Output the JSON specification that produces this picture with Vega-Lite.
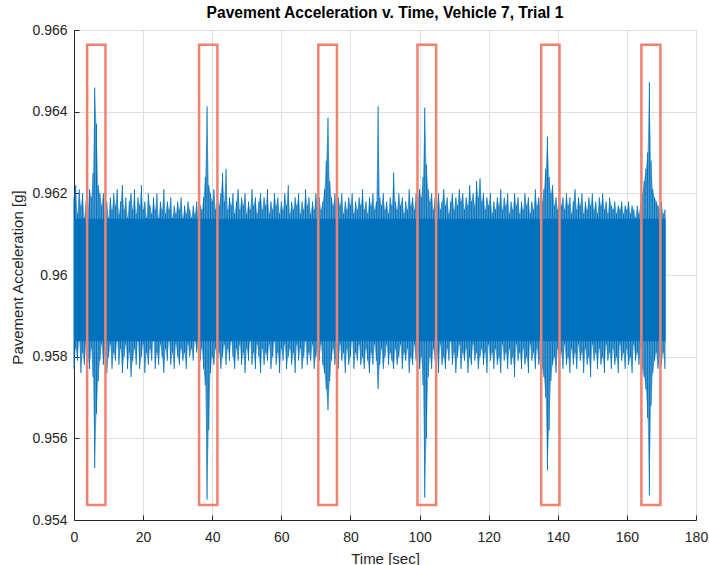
{
"$schema": "https://vega.github.io/schema/vega-lite/v6.json",
"width": 622, "height": 490,
"autosize": "none",
"padding": {"left": 74, "top": 30, "right": 13, "bottom": 45},
"background": "white",
"title": {"text": "Pavement Acceleration v. Time, Vehicle 7, Trial 1", "font": "Liberation Sans", "fontSize": 15.6, "fontWeight": "bold", "color": "#000000", "anchor": "middle", "baseline": "alphabetic", "offset": 10, "dy": 21},
"config": {"view": {"stroke": null}, "axis": {"labelFont": "Liberation Sans", "titleFont": "Liberation Sans", "labelColor": "#262626", "titleColor": "#262626", "labelFontSize": 14, "titleFontSize": 15, "titleFontWeight": "normal", "gridColor": "#dfdfdf", "gridWidth": 1, "domainColor": "#262626", "tickColor": "#262626", "tickSize": -5, "domainWidth": 1}},
"datasets": {
"core": [{"t0": 0, "t1": 171.2, "lo": 0.95838, "hi": 0.96138}],
"boxes": [
{"x0": 3.8, "x1": 9.1, "y0": 0.95437, "y1": 0.96564},
{"x0": 36.2, "x1": 41.5, "y0": 0.95437, "y1": 0.96564},
{"x0": 70.7, "x1": 76.1, "y0": 0.95437, "y1": 0.96564},
{"x0": 99.4, "x1": 104.8, "y0": 0.95437, "y1": 0.96564},
{"x0": 135.2, "x1": 140.5, "y0": 0.95437, "y1": 0.96564},
{"x0": 164.2, "x1": 169.7, "y0": 0.95437, "y1": 0.96564}
],
"sig": [
{"t":0,"hi":0.9619,"lo":0.9577},{"t":0.5,"hi":0.9622,"lo":0.9582},{"t":1,"hi":0.9615,"lo":0.9579},{"t":1.5,"hi":0.9621,"lo":0.9584},
{"t":2,"hi":0.9617,"lo":0.9576},{"t":2.5,"hi":0.962,"lo":0.9581},{"t":3,"hi":0.9614,"lo":0.9578},{"t":3.5,"hi":0.9618,"lo":0.9583},
{"t":4,"hi":0.9616,"lo":0.958},{"t":4.5,"hi":0.9621,"lo":0.9577},{"t":5,"hi":0.9619,"lo":0.9582},{"t":5.5,"hi":0.9625,"lo":0.9575},
{"t":6,"hi":0.96459,"lo":0.95527},{"t":6.5,"hi":0.9637,"lo":0.9566},{"t":7,"hi":0.9622,"lo":0.9574},{"t":7.5,"hi":0.962,"lo":0.9579},
{"t":8,"hi":0.9617,"lo":0.9583},{"t":8.5,"hi":0.962,"lo":0.9578},{"t":9,"hi":0.9615,"lo":0.9581},{"t":9.5,"hi":0.9618,"lo":0.9576},
{"t":10,"hi":0.9614,"lo":0.958},{"t":10.5,"hi":0.9619,"lo":0.9583},{"t":11,"hi":0.9616,"lo":0.9577},{"t":11.5,"hi":0.962,"lo":0.9581},
{"t":12,"hi":0.9617,"lo":0.9579},{"t":12.5,"hi":0.9621,"lo":0.9584},{"t":13,"hi":0.9615,"lo":0.9578},{"t":13.5,"hi":0.9618,"lo":0.9582},
{"t":14,"hi":0.9622,"lo":0.9576},{"t":14.5,"hi":0.9616,"lo":0.958},{"t":15,"hi":0.9619,"lo":0.9583},{"t":15.5,"hi":0.9614,"lo":0.9577},
{"t":16,"hi":0.9618,"lo":0.9581},{"t":16.5,"hi":0.962,"lo":0.9575},{"t":17,"hi":0.9616,"lo":0.9579},{"t":17.5,"hi":0.9621,"lo":0.9582},
{"t":18,"hi":0.9615,"lo":0.9578},{"t":18.5,"hi":0.9619,"lo":0.9584},{"t":19,"hi":0.9617,"lo":0.9577},{"t":19.5,"hi":0.9622,"lo":0.958},
{"t":20,"hi":0.9616,"lo":0.9583},{"t":20.5,"hi":0.9618,"lo":0.9576},{"t":21,"hi":0.9614,"lo":0.9581},{"t":21.5,"hi":0.962,"lo":0.9578},
{"t":22,"hi":0.9617,"lo":0.9582},{"t":22.5,"hi":0.9615,"lo":0.9579},{"t":23,"hi":0.9619,"lo":0.9585},{"t":23.5,"hi":0.9616,"lo":0.9577},
{"t":24,"hi":0.962,"lo":0.9581},{"t":24.5,"hi":0.9614,"lo":0.9578},{"t":25,"hi":0.9618,"lo":0.9583},{"t":25.5,"hi":0.9616,"lo":0.958},
{"t":26,"hi":0.9621,"lo":0.9576},{"t":26.5,"hi":0.9615,"lo":0.9582},{"t":27,"hi":0.9618,"lo":0.9579},{"t":27.5,"hi":0.9616,"lo":0.9584},
{"t":28,"hi":0.9619,"lo":0.9578},{"t":28.5,"hi":0.9614,"lo":0.9581},{"t":29,"hi":0.9617,"lo":0.9577},{"t":29.5,"hi":0.9615,"lo":0.9583},
{"t":30,"hi":0.9618,"lo":0.958},{"t":30.5,"hi":0.9616,"lo":0.9578},{"t":31,"hi":0.9619,"lo":0.9582},{"t":31.5,"hi":0.9614,"lo":0.9579},
{"t":32,"hi":0.9617,"lo":0.9581},{"t":32.5,"hi":0.9615,"lo":0.9577},{"t":33,"hi":0.9618,"lo":0.9583},{"t":33.5,"hi":0.9616,"lo":0.958},
{"t":34,"hi":0.9614,"lo":0.9582},{"t":34.5,"hi":0.9617,"lo":0.9579},{"t":35,"hi":0.9615,"lo":0.9584},{"t":35.5,"hi":0.9618,"lo":0.9581},
{"t":36,"hi":0.9614,"lo":0.9583},{"t":36.5,"hi":0.9617,"lo":0.9579},{"t":37,"hi":0.9616,"lo":0.9582},{"t":37.5,"hi":0.9619,"lo":0.9577},
{"t":38,"hi":0.9624,"lo":0.9573},{"t":38.5,"hi":0.96413,"lo":0.9545},{"t":39,"hi":0.9622,"lo":0.9562},{"t":39.5,"hi":0.962,"lo":0.9576},
{"t":40,"hi":0.9618,"lo":0.958},{"t":40.5,"hi":0.9621,"lo":0.9578},{"t":41,"hi":0.9616,"lo":0.9582},{"t":41.5,"hi":0.9619,"lo":0.9579},
{"t":42,"hi":0.9617,"lo":0.9581},{"t":42.5,"hi":0.962,"lo":0.9577},{"t":43,"hi":0.9625,"lo":0.958},{"t":43.5,"hi":0.9618,"lo":0.9583},
{"t":44,"hi":0.9626,"lo":0.9578},{"t":44.5,"hi":0.9616,"lo":0.9582},{"t":45,"hi":0.9619,"lo":0.9579},{"t":45.5,"hi":0.9617,"lo":0.9584},
{"t":46,"hi":0.962,"lo":0.958},{"t":46.5,"hi":0.9615,"lo":0.9577},{"t":47,"hi":0.9618,"lo":0.9582},{"t":47.5,"hi":0.9621,"lo":0.9579},
{"t":48,"hi":0.9616,"lo":0.9583},{"t":48.5,"hi":0.9619,"lo":0.9578},{"t":49,"hi":0.9617,"lo":0.9581},{"t":49.5,"hi":0.962,"lo":0.9576},
{"t":50,"hi":0.9615,"lo":0.9582},{"t":50.5,"hi":0.9618,"lo":0.9579},{"t":51,"hi":0.9616,"lo":0.9584},{"t":51.5,"hi":0.9621,"lo":0.9578},
{"t":52,"hi":0.9617,"lo":0.9581},{"t":52.5,"hi":0.9619,"lo":0.9577},{"t":53,"hi":0.9615,"lo":0.9583},{"t":53.5,"hi":0.9618,"lo":0.958},
{"t":54,"hi":0.962,"lo":0.9576},{"t":54.5,"hi":0.9616,"lo":0.9582},{"t":55,"hi":0.9619,"lo":0.9578},{"t":55.5,"hi":0.9617,"lo":0.9581},
{"t":56,"hi":0.9621,"lo":0.9579},{"t":56.5,"hi":0.9615,"lo":0.9583},{"t":57,"hi":0.9618,"lo":0.9577},{"t":57.5,"hi":0.9616,"lo":0.958},
{"t":58,"hi":0.962,"lo":0.9584},{"t":58.5,"hi":0.9617,"lo":0.9578},{"t":59,"hi":0.9619,"lo":0.9581},{"t":59.5,"hi":0.9615,"lo":0.9576},
{"t":60,"hi":0.9618,"lo":0.9582},{"t":60.5,"hi":0.9616,"lo":0.9579},{"t":61,"hi":0.962,"lo":0.9583},{"t":61.5,"hi":0.9617,"lo":0.9577},
{"t":62,"hi":0.9622,"lo":0.958},{"t":62.5,"hi":0.9615,"lo":0.9582},{"t":63,"hi":0.9618,"lo":0.9578},{"t":63.5,"hi":0.9616,"lo":0.9581},
{"t":64,"hi":0.9619,"lo":0.9576},{"t":64.5,"hi":0.9617,"lo":0.9583},{"t":65,"hi":0.962,"lo":0.9579},{"t":65.5,"hi":0.9615,"lo":0.9582},
{"t":66,"hi":0.9618,"lo":0.9577},{"t":66.5,"hi":0.9616,"lo":0.958},{"t":67,"hi":0.9621,"lo":0.9584},{"t":67.5,"hi":0.9617,"lo":0.9578},
{"t":68,"hi":0.9619,"lo":0.9581},{"t":68.5,"hi":0.9615,"lo":0.9579},{"t":69,"hi":0.9618,"lo":0.9583},{"t":69.5,"hi":0.9616,"lo":0.9577},
{"t":70,"hi":0.962,"lo":0.958},{"t":70.5,"hi":0.9617,"lo":0.9582},{"t":71,"hi":0.9619,"lo":0.9579},{"t":71.5,"hi":0.9616,"lo":0.9583},
{"t":72,"hi":0.9618,"lo":0.9578},{"t":72.5,"hi":0.9621,"lo":0.9576},{"t":73,"hi":0.9628,"lo":0.9572},{"t":73.5,"hi":0.96385,"lo":0.95669},
{"t":74,"hi":0.9623,"lo":0.9574},{"t":74.5,"hi":0.9619,"lo":0.9579},{"t":75,"hi":0.9617,"lo":0.9582},{"t":75.5,"hi":0.962,"lo":0.9578},
{"t":76,"hi":0.9616,"lo":0.9581},{"t":76.5,"hi":0.9619,"lo":0.9577},{"t":77,"hi":0.9617,"lo":0.9583},{"t":77.5,"hi":0.962,"lo":0.9579},
{"t":78,"hi":0.9615,"lo":0.9581},{"t":78.5,"hi":0.9618,"lo":0.9576},{"t":79,"hi":0.9616,"lo":0.9582},{"t":79.5,"hi":0.9619,"lo":0.9578},
{"t":80,"hi":0.9617,"lo":0.958},{"t":80.5,"hi":0.962,"lo":0.9584},{"t":81,"hi":0.9615,"lo":0.9577},{"t":81.5,"hi":0.9618,"lo":0.9581},
{"t":82,"hi":0.9616,"lo":0.9579},{"t":82.5,"hi":0.9619,"lo":0.9583},{"t":83,"hi":0.9617,"lo":0.9578},{"t":83.5,"hi":0.9621,"lo":0.958},
{"t":84,"hi":0.9616,"lo":0.9577},{"t":84.5,"hi":0.9618,"lo":0.9582},{"t":85,"hi":0.9615,"lo":0.9579},{"t":85.5,"hi":0.9619,"lo":0.9576},
{"t":86,"hi":0.9617,"lo":0.9581},{"t":86.5,"hi":0.962,"lo":0.9578},{"t":87,"hi":0.9616,"lo":0.9583},{"t":87.5,"hi":0.9618,"lo":0.9579},
{"t":88,"hi":0.96413,"lo":0.95721},{"t":88.5,"hi":0.9619,"lo":0.9578},{"t":89,"hi":0.9617,"lo":0.9582},{"t":89.5,"hi":0.962,"lo":0.9577},
{"t":90,"hi":0.9616,"lo":0.958},{"t":90.5,"hi":0.9618,"lo":0.9583},{"t":91,"hi":0.9615,"lo":0.9578},{"t":91.5,"hi":0.9619,"lo":0.9581},
{"t":92,"hi":0.9617,"lo":0.9579},{"t":92.5,"hi":0.96251,"lo":0.9577},{"t":93,"hi":0.9618,"lo":0.9582},{"t":93.5,"hi":0.9616,"lo":0.9578},
{"t":94,"hi":0.962,"lo":0.958},{"t":94.5,"hi":0.9617,"lo":0.9583},{"t":95,"hi":0.9619,"lo":0.9577},{"t":95.5,"hi":0.9615,"lo":0.9581},
{"t":96,"hi":0.9618,"lo":0.9579},{"t":96.5,"hi":0.9616,"lo":0.9582},{"t":97,"hi":0.9621,"lo":0.9576},{"t":97.5,"hi":0.9617,"lo":0.958},
{"t":98,"hi":0.9619,"lo":0.9578},{"t":98.5,"hi":0.9616,"lo":0.9583},{"t":99,"hi":0.962,"lo":0.9579},{"t":99.5,"hi":0.9618,"lo":0.9581},
{"t":100,"hi":0.9621,"lo":0.9577},{"t":100.5,"hi":0.9619,"lo":0.958},{"t":101,"hi":0.9624,"lo":0.9573},{"t":101.5,"hi":0.9641,"lo":0.95455},
{"t":102,"hi":0.9627,"lo":0.956},{"t":102.5,"hi":0.9621,"lo":0.9575},{"t":103,"hi":0.9618,"lo":0.958},{"t":103.5,"hi":0.962,"lo":0.9577},
{"t":104,"hi":0.9616,"lo":0.9582},{"t":104.5,"hi":0.9619,"lo":0.9579},{"t":105,"hi":0.9617,"lo":0.9581},{"t":105.5,"hi":0.962,"lo":0.9576},
{"t":106,"hi":0.9616,"lo":0.9583},{"t":106.5,"hi":0.9618,"lo":0.9578},{"t":107,"hi":0.9621,"lo":0.958},{"t":107.5,"hi":0.9617,"lo":0.9577},
{"t":108,"hi":0.9619,"lo":0.9582},{"t":108.5,"hi":0.9615,"lo":0.9579},{"t":109,"hi":0.9618,"lo":0.9584},{"t":109.5,"hi":0.962,"lo":0.9578},
{"t":110,"hi":0.9616,"lo":0.9581},{"t":110.5,"hi":0.9619,"lo":0.9576},{"t":111,"hi":0.9617,"lo":0.958},{"t":111.5,"hi":0.9621,"lo":0.9583},
{"t":112,"hi":0.9618,"lo":0.9577},{"t":112.5,"hi":0.962,"lo":0.9581},{"t":113,"hi":0.9616,"lo":0.9579},{"t":113.5,"hi":0.9619,"lo":0.9582},
{"t":114,"hi":0.9617,"lo":0.9576},{"t":114.5,"hi":0.9622,"lo":0.958},{"t":115,"hi":0.9618,"lo":0.9578},{"t":115.5,"hi":0.962,"lo":0.9583},
{"t":116,"hi":0.9617,"lo":0.9579},{"t":116.5,"hi":0.9623,"lo":0.9581},{"t":117,"hi":0.9619,"lo":0.9577},{"t":117.5,"hi":0.96237,"lo":0.958},
{"t":118,"hi":0.9618,"lo":0.9582},{"t":118.5,"hi":0.962,"lo":0.9578},{"t":119,"hi":0.9616,"lo":0.9581},{"t":119.5,"hi":0.9619,"lo":0.9576},
{"t":120,"hi":0.9617,"lo":0.9583},{"t":120.5,"hi":0.962,"lo":0.9579},{"t":121,"hi":0.9615,"lo":0.9581},{"t":121.5,"hi":0.9618,"lo":0.9577},
{"t":122,"hi":0.9616,"lo":0.9582},{"t":122.5,"hi":0.9619,"lo":0.9578},{"t":123,"hi":0.9617,"lo":0.958},{"t":123.5,"hi":0.9621,"lo":0.9576},
{"t":124,"hi":0.9616,"lo":0.9583},{"t":124.5,"hi":0.9619,"lo":0.9579},{"t":125,"hi":0.9617,"lo":0.9581},{"t":125.5,"hi":0.962,"lo":0.9577},
{"t":126,"hi":0.9615,"lo":0.9582},{"t":126.5,"hi":0.9618,"lo":0.9578},{"t":127,"hi":0.9616,"lo":0.958},{"t":127.5,"hi":0.962,"lo":0.9575},
{"t":128,"hi":0.9617,"lo":0.9583},{"t":128.5,"hi":0.9619,"lo":0.9579},{"t":129,"hi":0.9615,"lo":0.9581},{"t":129.5,"hi":0.9618,"lo":0.9577},
{"t":130,"hi":0.9616,"lo":0.9582},{"t":130.5,"hi":0.962,"lo":0.9578},{"t":131,"hi":0.9617,"lo":0.958},{"t":131.5,"hi":0.9619,"lo":0.9576},
{"t":132,"hi":0.9615,"lo":0.9583},{"t":132.5,"hi":0.9618,"lo":0.9579},{"t":133,"hi":0.9616,"lo":0.9581},{"t":133.5,"hi":0.9621,"lo":0.9577},
{"t":134,"hi":0.9617,"lo":0.9582},{"t":134.5,"hi":0.9619,"lo":0.9578},{"t":135,"hi":0.9616,"lo":0.958},{"t":135.5,"hi":0.9618,"lo":0.9577},
{"t":136,"hi":0.9621,"lo":0.9575},{"t":136.5,"hi":0.9626,"lo":0.957},{"t":137,"hi":0.96339,"lo":0.95522},{"t":137.5,"hi":0.9624,"lo":0.9562},
{"t":138,"hi":0.962,"lo":0.9574},{"t":138.5,"hi":0.9622,"lo":0.9578},{"t":139,"hi":0.9617,"lo":0.958},{"t":139.5,"hi":0.9619,"lo":0.9576},
{"t":140,"hi":0.9616,"lo":0.9582},{"t":140.5,"hi":0.962,"lo":0.9579},{"t":141,"hi":0.9617,"lo":0.9581},{"t":141.5,"hi":0.9619,"lo":0.9577},
{"t":142,"hi":0.9616,"lo":0.9583},{"t":142.5,"hi":0.962,"lo":0.9578},{"t":143,"hi":0.9617,"lo":0.958},{"t":143.5,"hi":0.9619,"lo":0.9576},
{"t":144,"hi":0.9615,"lo":0.9582},{"t":144.5,"hi":0.9618,"lo":0.9578},{"t":145,"hi":0.9621,"lo":0.9581},{"t":145.5,"hi":0.9616,"lo":0.9577},
{"t":146,"hi":0.9619,"lo":0.9583},{"t":146.5,"hi":0.9617,"lo":0.9579},{"t":147,"hi":0.962,"lo":0.9581},{"t":147.5,"hi":0.9615,"lo":0.9576},
{"t":148,"hi":0.9618,"lo":0.9582},{"t":148.5,"hi":0.9616,"lo":0.9578},{"t":149,"hi":0.9619,"lo":0.958},{"t":149.5,"hi":0.9617,"lo":0.9575},
{"t":150,"hi":0.962,"lo":0.9583},{"t":150.5,"hi":0.9616,"lo":0.9579},{"t":151,"hi":0.9618,"lo":0.9581},{"t":151.5,"hi":0.9615,"lo":0.9577},
{"t":152,"hi":0.9619,"lo":0.9582},{"t":152.5,"hi":0.9617,"lo":0.9578},{"t":153,"hi":0.962,"lo":0.958},{"t":153.5,"hi":0.9616,"lo":0.9576},
{"t":154,"hi":0.9618,"lo":0.9583},{"t":154.5,"hi":0.9615,"lo":0.9579},{"t":155,"hi":0.9619,"lo":0.9581},{"t":155.5,"hi":0.9617,"lo":0.9577},
{"t":156,"hi":0.9616,"lo":0.9582},{"t":156.5,"hi":0.9618,"lo":0.9578},{"t":157,"hi":0.9615,"lo":0.958},{"t":157.5,"hi":0.9617,"lo":0.9576},
{"t":158,"hi":0.9616,"lo":0.9583},{"t":158.5,"hi":0.9618,"lo":0.9579},{"t":159,"hi":0.9615,"lo":0.9581},{"t":159.5,"hi":0.9617,"lo":0.9577},
{"t":160,"hi":0.9616,"lo":0.9582},{"t":160.5,"hi":0.9618,"lo":0.9578},{"t":161,"hi":0.9615,"lo":0.958},{"t":161.5,"hi":0.9617,"lo":0.9576},
{"t":162,"hi":0.9616,"lo":0.9583},{"t":162.5,"hi":0.9614,"lo":0.9579},{"t":163,"hi":0.9617,"lo":0.9581},{"t":163.5,"hi":0.9615,"lo":0.9578},
{"t":164,"hi":0.9618,"lo":0.9582},{"t":164.5,"hi":0.962,"lo":0.9577},{"t":165,"hi":0.9623,"lo":0.9575},{"t":165.5,"hi":0.9626,"lo":0.9572},
{"t":166,"hi":0.963,"lo":0.9565},{"t":166.5,"hi":0.96472,"lo":0.9546},{"t":167,"hi":0.9628,"lo":0.9568},{"t":167.5,"hi":0.9621,"lo":0.9576},
{"t":168,"hi":0.9619,"lo":0.9579},{"t":168.5,"hi":0.9618,"lo":0.9581},{"t":169,"hi":0.9617,"lo":0.9577},{"t":169.5,"hi":0.9616,"lo":0.958},
{"t":170,"hi":0.9618,"lo":0.9578},{"t":170.5,"hi":0.9615,"lo":0.9581},{"t":171,"hi":0.9616,"lo":0.9577}
]
},
"layer": [
{"data": {"name": "sig"}, "mark": {"type": "area", "color": "#0072BD", "opacity": 0.6, "interpolate": "linear"},
 "encoding": {
  "x": {"field": "t", "type": "quantitative", "scale": {"domain": [0, 180], "nice": false, "zero": false}, "axis": {"values": [0,20,40,60,80,100,120,140,160,180], "title": "Time [sec]", "labelPadding": 15, "titleY": 38, "titleBaseline": "middle", "grid": true, "labelFlush": false}},
  "y": {"field": "lo", "type": "quantitative", "scale": {"domain": [0.954, 0.966], "nice": false, "zero": false}, "axis": {"values": [0.954,0.956,0.958,0.96,0.962,0.964,0.966], "format": ".3~f", "title": "Pavement Acceleration [g]", "labelPadding": 12, "titleX": -57, "titleY": 247, "titleBaseline": "middle", "titleAngle": -90, "grid": true, "labelFlush": false}},
  "y2": {"field": "hi"}
 }},
{"data": {"name": "core"}, "mark": {"type": "rect", "color": "#0072BD"},
 "encoding": {"x": {"field": "t0", "type": "quantitative"}, "x2": {"field": "t1"}, "y": {"field": "lo", "type": "quantitative"}, "y2": {"field": "hi"}}},
{"data": {"name": "sig"}, "mark": {"type": "rule", "color": "#0072BD", "strokeWidth": 1},
 "encoding": {"x": {"field": "t", "type": "quantitative"}, "y": {"field": "lo", "type": "quantitative"}, "y2": {"field": "hi"}}},
{"data": {"name": "boxes"}, "mark": {"type": "rect", "filled": false, "stroke": "#F0826F", "strokeWidth": 2.5},
 "encoding": {"x": {"field": "x0", "type": "quantitative"}, "x2": {"field": "x1"}, "y": {"field": "y0", "type": "quantitative"}, "y2": {"field": "y1"}}}
]
}
